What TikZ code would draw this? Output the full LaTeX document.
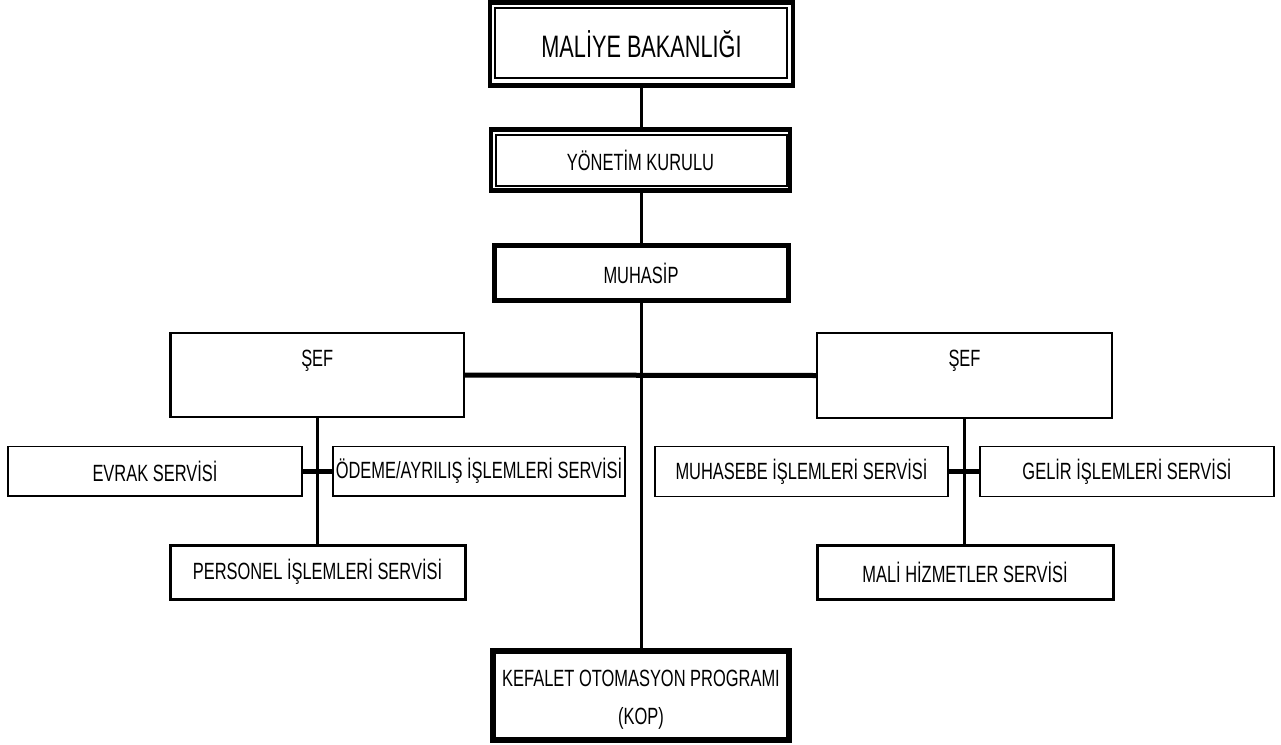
\documentclass[tikz,border=0pt]{standalone}
\usepackage{fontspec}
\setmainfont{Liberation Sans}[FakeStretch=0.70]
\usetikzlibrary{calc}
\begin{document}
\begin{tikzpicture}[x=1pt,y=-1pt,
  every node/.style={inner sep=0pt,outer sep=0pt,font=\fontsize{23.5}{38}\selectfont,align=center},
  boxthin/.style={draw,line width=1.3pt,fill=white},
  boxmid/.style={draw,line width=2.6pt,fill=white},
  boxthick/.style={draw,line width=5pt,fill=white},
  vline/.style={line width=3pt},
  hline/.style={line width=5pt}]
\useasboundingbox (0,0) rectangle (1281,744);
% top boxes
\node[boxthick,line width=4.5pt,minimum width=303pt,minimum height=83pt,font=\fontsize{31}{36}\selectfont] (mb) at (641.5,44) {MALİYE BAKANLIĞI};
\draw[line width=1.5pt] ([shift={(5,5.5)}]mb.north west) rectangle ([shift={(-6,-7.5)}]mb.south east);
\node[boxthick,line width=4.5pt,minimum width=299pt,minimum height=61pt] (yk) at (640.5,160) {YÖNETİM KURULU};
\draw[line width=1.5pt] ([shift={(5,5.5)}]yk.north west) rectangle ([shift={(-3,-4.5)}]yk.south east);
\node[boxthick,minimum width=294pt,minimum height=55.5pt] (mh) at (641,273) {MUHASİP};
\node[boxthick,line width=5.5pt,minimum width=296pt,minimum height=89pt] (kop) at (641,695.5) {};
\node (kopt) at ($(kop.center)+(0,4)$) {KEFALET OTOMASYON PROGRAMI\\(KOP)};
% chiefs
\node[boxmid,minimum width=293.5pt,minimum height=84pt] (sefL) at (317.25,375) {};
\node (sefLt) at ($(sefL.north)+(0,28)$) {ŞEF};
\node[boxmid,minimum width=295pt,minimum height=85pt] (sefR) at (964.5,375.5) {};
\node (sefRt) at ($(sefR.north)+(0,28)$) {ŞEF};
% services left
\node[boxthin,minimum width=294pt,minimum height=49.5pt] (evrak) at (155,471.25) {EVRAK SERVİSİ};
\node[boxthin,minimum width=292pt,minimum height=49.5pt] (odeme) at (479,471.25) {ÖDEME/AYRILIŞ İŞLEMLERİ SERVİSİ};
\node[boxmid,line width=3pt,minimum width=295pt,minimum height=54pt] (pers) at (317.5,572) {PERSONEL İŞLEMLERİ SERVİSİ};
% services right
\node[boxthin,minimum width=293pt,minimum height=49.5pt] (muh) at (801.5,471.5) {MUHASEBE İŞLEMLERİ SERVİSİ};
\node[boxthin,minimum width=294pt,minimum height=49.5pt] (gelir) at (1127,471.5) {GELİR İŞLEMLERİ SERVİSİ};
\node[boxmid,line width=3pt,minimum width=296pt,minimum height=54pt] (mali) at (965,572) {MALİ HİZMETLER SERVİSİ};
% connectors
\draw[vline] (mb.south) -- (mb.south |- yk.north);
\draw[vline] (mb.south |- yk.south) -- (mb.south |- mh.north);
\draw[vline] (mb.south |- mh.south) -- (mb.south |- kop.north);
\draw[hline] (sefL.east) -- (sefR.west);
\draw[vline] (sefL.south) -- (sefL.south |- pers.north);
\draw[vline] (sefR.south) -- (sefR.south |- mali.north);
\draw[hline] (evrak.east) -- (odeme.west);
\draw[hline] (muh.east) -- (gelir.west);
\end{tikzpicture}
\end{document}
